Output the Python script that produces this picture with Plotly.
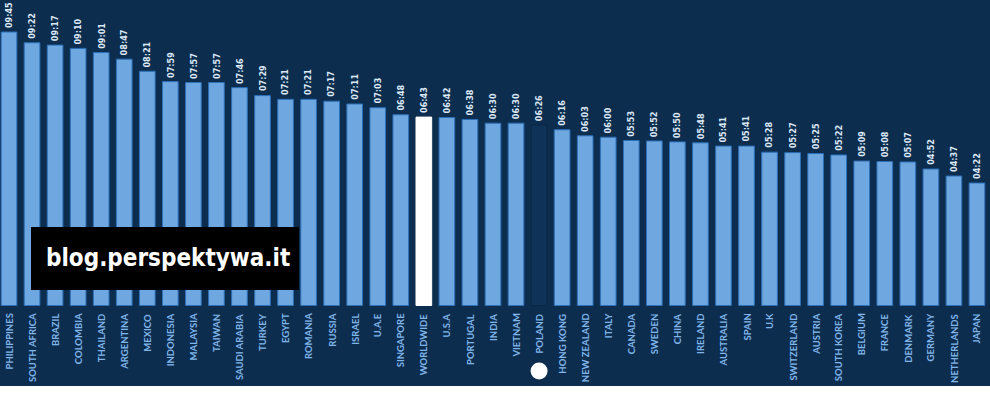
import plotly.graph_objects as go

countries = ["PHILIPPINES", "SOUTH AFRICA", "BRAZIL", "COLOMBIA", "THAILAND", "ARGENTINA",
             "MEXICO", "INDONESIA", "MALAYSIA", "TAIWAN", "SAUDI ARABIA", "TURKEY", "EGYPT",
             "ROMANIA", "RUSSIA", "ISRAEL", "U.A.E", "SINGAPORE", "WORLDWIDE", "U.S.A",
             "PORTUGAL", "INDIA", "VIETNAM", "POLAND", "HONG KONG", "NEW ZEALAND", "ITALY",
             "CANADA", "SWEDEN", "CHINA", "IRELAND", "AUSTRALIA", "SPAIN", "U.K",
             "SWITZERLAND", "AUSTRIA", "SOUTH KOREA", "BELGIUM", "FRANCE", "DENMARK",
             "GERMANY", "NETHERLANDS", "JAPAN"]
time_labels = ["09:45", "09:22", "09:17", "09:10", "09:01", "08:47", "08:21", "07:59", "07:57",
               "07:57", "07:46", "07:29", "07:21", "07:21", "07:17", "07:11", "07:03", "06:48",
               "06:43", "06:42", "06:38", "06:30", "06:30", "06:26", "06:16", "06:03", "06:00",
               "05:53", "05:52", "05:50", "05:48", "05:41", "05:41", "05:28", "05:27", "05:25",
               "05:22", "05:09", "05:08", "05:07", "04:52", "04:37", "04:22"]
seconds = [int(t.split(":")[0]) * 60 + int(t.split(":")[1]) for t in time_labels]

NAVY = "#0d2d4f"
BAR = "#6fa7e1"
BAR_EDGE = "#2c70b8"

fills, edges = [], []
for c in countries:
    if c == "WORLDWIDE":
        fills.append("#ffffff"); edges.append("#ffffff")
    elif c == "POLAND":
        fills.append("#0f3358"); edges.append("#0b2745")
    else:
        fills.append(BAR); edges.append(BAR_EDGE)

fig = go.Figure(go.Bar(
    x=list(range(len(countries))), y=seconds,
    marker=dict(color=fills, line=dict(color=edges, width=1)),
    width=0.68, hoverinfo="skip"))

ann = []
for i, (c, s, t) in enumerate(zip(countries, seconds, time_labels)):
    ann.append(dict(x=i, y=s, xref="x", yref="y", text="<b>" + t + "</b>", textangle=-90,
                    showarrow=False, xanchor="center", yanchor="bottom", yshift=2,
                    font=dict(family="DejaVu Sans Condensed", size=9, color="#dce9f7")))
    ann.append(dict(x=i, y=0, xref="x", yref="y", text="<b>" + c + "</b>", textangle=-90,
                    showarrow=False, xanchor="center", yanchor="top", yshift=-6,
                    font=dict(family="Lato", size=9.5, color="#80b6ea")))

ann.append(dict(x=(31 + 299) / 2 / 990 + 0.003, y=1 - (258 / 386), xref="paper", yref="paper",
                text="<b>blog.perspektywa.it</b>", showarrow=False, xanchor="center",
                yanchor="middle",
                font=dict(family="DejaVu Sans Condensed", size=24, color="#ffffff")))

shapes = [
    dict(type="rect", xref="paper", yref="paper", x0=31 / 990, x1=299 / 990,
         y0=1 - 290 / 386, y1=1 - 227 / 386, fillcolor="#000000", line=dict(width=0), layer="above"),
    dict(type="circle", xref="x", yref="paper", xsizemode="pixel", ysizemode="pixel",
         xanchor=23, yanchor=(386 - 371) / 386, x0=-8.5, x1=8.5, y0=-8.5, y1=8.5,
         fillcolor="#ffffff", line=dict(width=0)),
]

fig.update_layout(
    width=990, height=393, margin=dict(l=0, r=0, t=0, b=7),
    paper_bgcolor="#ffffff", plot_bgcolor=NAVY, showlegend=False,
    bargap=0.3,
    xaxis=dict(range=[-0.3905, 42.565], visible=False, fixedrange=True),
    yaxis=dict(range=[-172.2, 653.5], visible=False, fixedrange=True),
    annotations=ann, shapes=shapes,
)

fig.write_html("out.html", post_script="document.body.style.margin='0';",
               config={"displayModeBar": False})
